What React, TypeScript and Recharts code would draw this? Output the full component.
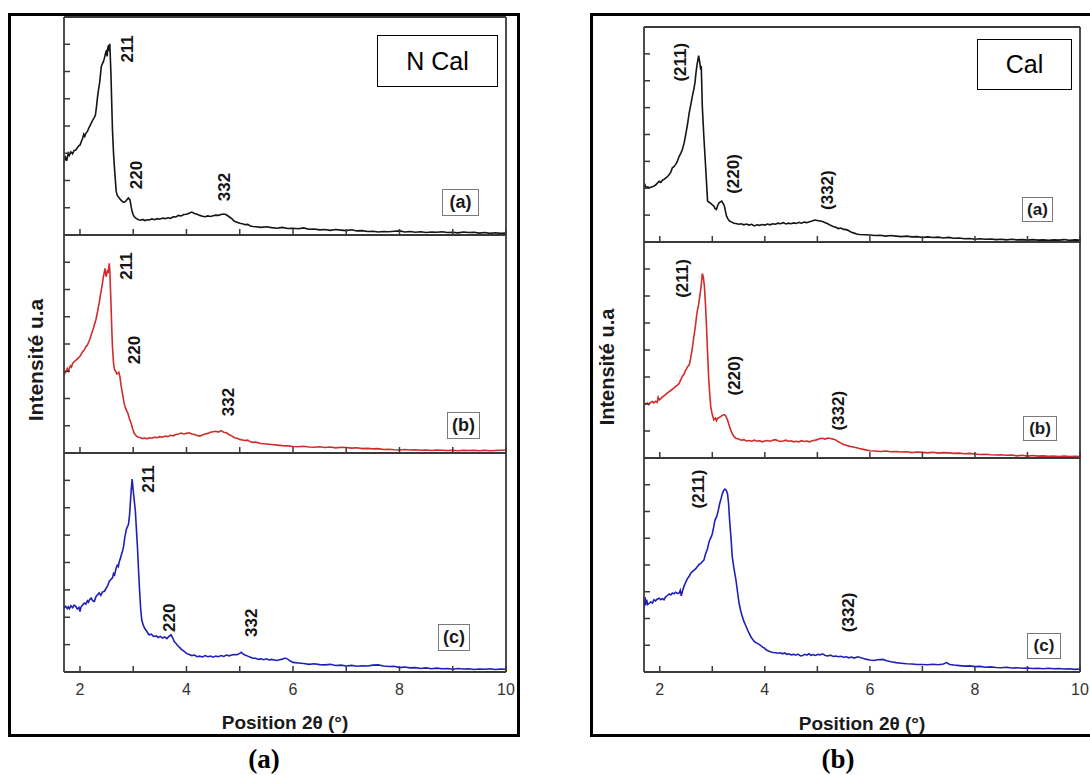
import { LineChart, Line, XAxis, YAxis, ReferenceDot } from "recharts";

// ── Style ─────────────────────────────────────────────────────────────────────

const FRAME = "#3a3a3a";
const SANS = '"Liberation Sans", Arial, sans-serif';
const SERIF = '"Liberation Serif", "Times New Roman", serif';
const PAD = 4; // breathing room around each plot inside its svg
const PADX = 14; // wider at the sides so the "10" tick label is not clipped
const AX = 1; // axes need a non-zero size or recharts skips them

const THETA_DOMAIN: [number, number] = [1.7, 10];
const THETA_TICKS = [2, 3, 4, 5, 6, 7, 8, 9, 10];
const INTENSITY_DOMAIN: [number, number] = [0, 8];
const INTENSITY_TICKS = [1, 2, 3, 4, 5, 6, 7];

// ── Diffractograms: [2θ (°), intensity (a.u.)] ───────────────────────────────

type Pair = [number, number];

// non calcined
const nCalA: Pair[] = [
  [1.7, 2.69], [1.73, 2.85], [1.75, 2.72], [1.78, 3.0], [1.8, 2.92], [1.83, 3.05], [1.86, 2.98],
  [1.89, 3.1], [1.92, 3.12], [1.95, 3.2], [1.98, 3.28], [2.0, 3.3], [2.03, 3.45], [2.05, 3.55],
  [2.07, 3.7], [2.09, 3.62], [2.11, 3.73], [2.14, 3.8], [2.16, 3.9], [2.18, 3.98], [2.21, 4.1],
  [2.24, 4.22], [2.27, 4.32], [2.29, 4.4], [2.31, 4.7], [2.33, 5.08], [2.35, 5.35], [2.37, 5.6],
  [2.4, 6.18], [2.42, 6.28], [2.44, 6.36], [2.46, 6.5], [2.48, 6.67], [2.5, 6.79], [2.51, 6.55],
  [2.52, 6.85], [2.54, 6.97], [2.55, 6.75], [2.56, 7.02], [2.58, 6.0], [2.61, 3.85], [2.63, 3.0],
  [2.65, 2.39], [2.68, 1.6], [2.7, 1.45], [2.72, 1.4], [2.74, 1.35], [2.77, 1.28], [2.8, 1.22],
  [2.83, 1.2], [2.86, 1.24], [2.89, 1.32], [2.91, 1.36], [2.94, 1.28], [2.96, 1.05], [2.98, 0.86],
  [3.0, 0.74], [3.02, 0.67], [3.06, 0.6], [3.1, 0.56], [3.14, 0.54], [3.18, 0.57], [3.22, 0.53],
  [3.26, 0.56], [3.3, 0.55], [3.35, 0.59], [3.4, 0.56], [3.45, 0.6], [3.5, 0.58], [3.55, 0.62],
  [3.6, 0.6], [3.65, 0.63], [3.7, 0.61], [3.75, 0.67], [3.8, 0.66], [3.85, 0.72], [3.9, 0.7],
  [3.95, 0.75], [4.0, 0.76], [4.05, 0.8], [4.1, 0.84], [4.15, 0.79], [4.2, 0.76], [4.25, 0.72],
  [4.3, 0.69], [4.35, 0.67], [4.4, 0.7], [4.45, 0.68], [4.5, 0.71], [4.55, 0.73], [4.6, 0.72],
  [4.65, 0.75], [4.7, 0.77], [4.75, 0.74], [4.8, 0.67], [4.85, 0.6], [4.9, 0.5], [4.95, 0.47],
  [5.0, 0.43], [5.05, 0.41], [5.1, 0.38], [5.15, 0.39], [5.2, 0.33], [5.25, 0.31], [5.3, 0.3],
  [5.4, 0.28], [5.5, 0.3], [5.6, 0.27], [5.7, 0.25], [5.8, 0.28], [5.9, 0.24], [6.0, 0.25],
  [6.1, 0.23], [6.2, 0.26], [6.3, 0.21], [6.4, 0.22], [6.5, 0.19], [6.6, 0.2], [6.7, 0.17],
  [6.8, 0.2], [6.9, 0.18], [7.0, 0.16], [7.1, 0.19], [7.2, 0.15], [7.3, 0.16], [7.4, 0.13],
  [7.5, 0.14], [7.6, 0.11], [7.7, 0.13], [7.8, 0.12], [7.9, 0.14], [8.0, 0.15], [8.1, 0.11],
  [8.2, 0.13], [8.3, 0.1], [8.4, 0.12], [8.5, 0.09], [8.6, 0.11], [8.7, 0.1], [8.8, 0.12],
  [8.9, 0.09], [9.0, 0.1], [9.1, 0.08], [9.2, 0.11], [9.3, 0.09], [9.4, 0.1], [9.5, 0.07],
  [9.6, 0.09], [9.7, 0.06], [9.8, 0.08], [9.9, 0.06], [10.0, 0.07],
];

const nCalB: Pair[] = [
  [1.7, 2.86], [1.72, 2.95], [1.74, 2.98], [1.76, 3.1], [1.78, 3.0], [1.8, 3.11], [1.82, 3.2],
  [1.84, 3.15], [1.86, 3.28], [1.89, 3.35], [1.92, 3.4], [1.96, 3.47], [2.0, 3.55], [2.03, 3.65],
  [2.05, 3.72], [2.08, 3.78], [2.11, 3.9], [2.14, 3.96], [2.17, 4.1], [2.19, 4.2], [2.21, 4.33],
  [2.24, 4.5], [2.27, 4.7], [2.3, 4.9], [2.33, 5.19], [2.36, 5.5], [2.38, 5.75], [2.4, 5.98],
  [2.42, 6.2], [2.44, 6.47], [2.46, 6.65], [2.47, 6.78], [2.49, 6.47], [2.5, 6.55], [2.52, 6.72],
  [2.53, 6.6], [2.55, 6.96], [2.56, 6.7], [2.58, 5.61], [2.6, 4.4], [2.61, 3.9], [2.63, 3.3],
  [2.65, 3.05], [2.67, 3.0], [2.69, 2.9], [2.71, 2.92], [2.73, 2.96], [2.75, 2.8], [2.77, 2.5],
  [2.8, 2.15], [2.83, 1.82], [2.86, 1.62], [2.9, 1.46], [2.93, 1.25], [2.96, 1.09], [2.99, 0.88],
  [3.02, 0.72], [3.06, 0.62], [3.1, 0.58], [3.14, 0.56], [3.18, 0.53], [3.22, 0.55], [3.26, 0.52],
  [3.3, 0.56], [3.35, 0.54], [3.4, 0.58], [3.45, 0.56], [3.5, 0.6], [3.55, 0.58], [3.6, 0.62],
  [3.65, 0.6], [3.7, 0.65], [3.75, 0.63], [3.8, 0.68], [3.85, 0.7], [3.9, 0.73], [3.95, 0.7],
  [4.0, 0.72], [4.05, 0.74], [4.1, 0.7], [4.15, 0.68], [4.2, 0.64], [4.25, 0.62], [4.3, 0.66],
  [4.35, 0.7], [4.4, 0.72], [4.45, 0.76], [4.5, 0.78], [4.55, 0.8], [4.6, 0.77], [4.65, 0.82],
  [4.7, 0.76], [4.75, 0.74], [4.8, 0.67], [4.85, 0.63], [4.9, 0.56], [4.95, 0.54], [5.0, 0.5],
  [5.05, 0.48], [5.1, 0.46], [5.15, 0.47], [5.2, 0.41], [5.25, 0.39], [5.3, 0.4], [5.4, 0.35],
  [5.5, 0.33], [5.6, 0.31], [5.7, 0.29], [5.8, 0.27], [5.9, 0.26], [6.0, 0.24], [6.1, 0.23],
  [6.2, 0.25], [6.3, 0.22], [6.4, 0.21], [6.5, 0.23], [6.6, 0.2], [6.7, 0.22], [6.8, 0.19],
  [6.9, 0.21], [7.0, 0.2], [7.1, 0.18], [7.2, 0.19], [7.3, 0.16], [7.4, 0.17], [7.5, 0.15],
  [7.6, 0.16], [7.7, 0.13], [7.8, 0.14], [7.9, 0.12], [8.0, 0.11], [8.1, 0.13], [8.2, 0.11],
  [8.3, 0.12], [8.4, 0.1], [8.5, 0.11], [8.6, 0.09], [8.7, 0.11], [8.8, 0.1], [8.9, 0.09],
  [9.0, 0.1], [9.1, 0.08], [9.2, 0.1], [9.3, 0.09], [9.4, 0.1], [9.5, 0.08], [9.6, 0.1],
  [9.7, 0.08], [9.8, 0.09], [9.9, 0.1], [10.0, 0.11],
];

const nCalC: Pair[] = [
  [1.7, 2.34], [1.73, 2.4], [1.76, 2.32], [1.78, 2.38], [1.8, 2.31], [1.83, 2.42], [1.86, 2.35],
  [1.89, 2.44], [1.92, 2.4], [1.95, 2.3], [1.98, 2.36], [2.0, 2.21], [2.02, 2.38], [2.05, 2.45],
  [2.08, 2.52], [2.11, 2.48], [2.14, 2.6], [2.16, 2.55], [2.18, 2.64], [2.21, 2.7], [2.24, 2.6],
  [2.27, 2.58], [2.3, 2.75], [2.33, 2.82], [2.36, 2.89], [2.39, 2.8], [2.42, 2.92], [2.46, 2.95],
  [2.49, 3.05], [2.52, 3.15], [2.55, 3.31], [2.58, 3.38], [2.61, 3.44], [2.63, 3.6], [2.65, 3.55],
  [2.68, 3.8], [2.7, 3.9], [2.72, 3.85], [2.74, 4.05], [2.76, 4.15], [2.78, 4.3], [2.8, 4.42],
  [2.82, 4.6], [2.84, 4.9], [2.87, 5.21], [2.89, 5.3], [2.91, 5.39], [2.93, 5.7], [2.94, 6.0],
  [2.96, 6.6], [2.98, 7.05], [3.0, 6.62], [3.02, 6.25], [3.04, 5.88], [3.06, 5.2], [3.08, 4.54],
  [3.1, 3.7], [3.12, 2.95], [3.14, 2.3], [3.16, 1.9], [3.19, 1.7], [3.22, 1.58], [3.25, 1.5],
  [3.28, 1.4], [3.3, 1.36], [3.34, 1.38], [3.38, 1.3], [3.43, 1.32], [3.47, 1.26], [3.51, 1.3],
  [3.55, 1.24], [3.59, 1.28], [3.63, 1.22], [3.67, 1.3], [3.71, 1.36], [3.74, 1.25], [3.77, 1.11],
  [3.8, 1.05], [3.84, 0.95], [3.87, 0.9], [3.91, 0.82], [3.95, 0.76], [4.0, 0.68], [4.05, 0.64],
  [4.1, 0.6], [4.15, 0.62], [4.2, 0.56], [4.25, 0.58], [4.3, 0.55], [4.35, 0.6], [4.4, 0.56],
  [4.45, 0.58], [4.5, 0.54], [4.55, 0.58], [4.6, 0.56], [4.65, 0.6], [4.7, 0.57], [4.75, 0.62],
  [4.8, 0.59], [4.85, 0.62], [4.9, 0.64], [4.95, 0.63], [5.0, 0.68], [5.03, 0.72], [5.06, 0.66],
  [5.1, 0.62], [5.15, 0.58], [5.2, 0.54], [5.25, 0.5], [5.3, 0.5], [5.35, 0.46], [5.4, 0.48],
  [5.45, 0.45], [5.5, 0.48], [5.55, 0.44], [5.6, 0.46], [5.65, 0.44], [5.7, 0.42], [5.75, 0.45],
  [5.8, 0.47], [5.85, 0.51], [5.9, 0.47], [5.95, 0.4], [6.0, 0.35], [6.1, 0.33], [6.2, 0.31],
  [6.3, 0.28], [6.4, 0.3], [6.5, 0.27], [6.6, 0.26], [6.7, 0.28], [6.8, 0.24], [6.9, 0.25],
  [7.0, 0.22], [7.1, 0.24], [7.2, 0.21], [7.3, 0.23], [7.4, 0.22], [7.5, 0.25], [7.6, 0.26],
  [7.7, 0.22], [7.8, 0.2], [7.9, 0.21], [8.0, 0.16], [8.1, 0.18], [8.2, 0.15], [8.3, 0.16],
  [8.4, 0.13], [8.5, 0.15], [8.6, 0.12], [8.7, 0.14], [8.8, 0.12], [8.9, 0.13], [9.0, 0.1],
  [9.1, 0.13], [9.2, 0.11], [9.3, 0.12], [9.4, 0.09], [9.5, 0.11], [9.6, 0.1], [9.7, 0.12],
  [9.8, 0.09], [9.9, 0.11], [10.0, 0.1],
];

// calcined
const calA: Pair[] = [
  [1.7, 2.06], [1.72, 2.12], [1.74, 2.02], [1.77, 2.05], [1.8, 2.02], [1.83, 2.04], [1.86, 2.06],
  [1.89, 2.08], [1.92, 2.12], [1.95, 2.18], [1.99, 2.26], [2.02, 2.22], [2.05, 2.3], [2.08, 2.33],
  [2.11, 2.38], [2.14, 2.42], [2.18, 2.51], [2.21, 2.6], [2.24, 2.76], [2.27, 2.8], [2.3, 2.88],
  [2.33, 2.98], [2.37, 3.19], [2.4, 3.3], [2.43, 3.44], [2.46, 3.65], [2.48, 3.85], [2.5, 4.06],
  [2.53, 4.4], [2.56, 4.8], [2.59, 5.1], [2.62, 5.42], [2.65, 5.7], [2.67, 5.92], [2.69, 6.3],
  [2.71, 6.6], [2.74, 6.93], [2.76, 6.7], [2.78, 6.41], [2.79, 6.55], [2.81, 5.05], [2.84, 3.9],
  [2.88, 2.57], [2.91, 1.52], [2.94, 1.48], [2.97, 1.44], [3.0, 1.38], [3.03, 1.34], [3.05, 1.25],
  [3.08, 1.21], [3.1, 1.35], [3.13, 1.46], [3.16, 1.5], [3.18, 1.52], [3.21, 1.42], [3.23, 1.34],
  [3.25, 1.15], [3.27, 0.97], [3.3, 0.85], [3.33, 0.78], [3.37, 0.74], [3.41, 0.7], [3.45, 0.69],
  [3.5, 0.66], [3.55, 0.68], [3.6, 0.64], [3.65, 0.67], [3.7, 0.63], [3.75, 0.66], [3.8, 0.6],
  [3.85, 0.64], [3.9, 0.62], [3.95, 0.65], [4.0, 0.63], [4.05, 0.67], [4.1, 0.64], [4.15, 0.68],
  [4.2, 0.66], [4.25, 0.7], [4.3, 0.68], [4.35, 0.72], [4.4, 0.67], [4.45, 0.7], [4.5, 0.68],
  [4.55, 0.71], [4.6, 0.69], [4.65, 0.73], [4.7, 0.7], [4.75, 0.74], [4.8, 0.72], [4.85, 0.75],
  [4.9, 0.78], [4.95, 0.82], [5.0, 0.8], [5.05, 0.78], [5.1, 0.76], [5.15, 0.72], [5.2, 0.68],
  [5.25, 0.62], [5.3, 0.58], [5.35, 0.55], [5.4, 0.5], [5.45, 0.52], [5.5, 0.47], [5.55, 0.46],
  [5.6, 0.42], [5.65, 0.36], [5.7, 0.33], [5.75, 0.3], [5.8, 0.28], [5.9, 0.27], [6.0, 0.26],
  [6.1, 0.24], [6.2, 0.25], [6.3, 0.22], [6.4, 0.24], [6.5, 0.22], [6.6, 0.2], [6.7, 0.22],
  [6.8, 0.19], [6.9, 0.2], [7.0, 0.17], [7.1, 0.19], [7.2, 0.17], [7.3, 0.18], [7.4, 0.15],
  [7.5, 0.17], [7.6, 0.14], [7.7, 0.15], [7.8, 0.12], [7.9, 0.13], [8.0, 0.1], [8.1, 0.12],
  [8.2, 0.1], [8.3, 0.11], [8.4, 0.09], [8.5, 0.1], [8.6, 0.08], [8.7, 0.1], [8.8, 0.08],
  [8.9, 0.09], [9.0, 0.07], [9.1, 0.09], [9.2, 0.07], [9.3, 0.08], [9.4, 0.06], [9.5, 0.08],
  [9.6, 0.07], [9.7, 0.09], [9.8, 0.06], [9.9, 0.08], [10.0, 0.07],
];

const calB: Pair[] = [
  [1.7, 2.03], [1.73, 2.0], [1.76, 2.04], [1.79, 1.98], [1.82, 2.05], [1.86, 2.09], [1.89, 2.04],
  [1.92, 2.1], [1.95, 2.06], [1.97, 2.25], [1.99, 2.15], [2.02, 2.2], [2.05, 2.26], [2.08, 2.3],
  [2.11, 2.35], [2.14, 2.4], [2.18, 2.46], [2.21, 2.5], [2.24, 2.55], [2.27, 2.59], [2.3, 2.65],
  [2.34, 2.7], [2.37, 2.77], [2.4, 2.9], [2.43, 3.02], [2.46, 3.1], [2.48, 3.2], [2.5, 3.27],
  [2.53, 3.38], [2.56, 3.45], [2.58, 3.6], [2.61, 3.95], [2.63, 4.2], [2.65, 4.5], [2.68, 4.9],
  [2.7, 5.25], [2.72, 5.5], [2.74, 5.68], [2.77, 6.11], [2.79, 6.4], [2.81, 6.83], [2.83, 6.7],
  [2.85, 6.36], [2.87, 5.7], [2.89, 4.88], [2.91, 3.9], [2.93, 3.02], [2.95, 2.4], [2.97, 1.91],
  [3.0, 1.6], [3.03, 1.41], [3.06, 1.48], [3.08, 1.38], [3.1, 1.47], [3.13, 1.5], [3.16, 1.53],
  [3.19, 1.58], [3.21, 1.6], [3.23, 1.6], [3.26, 1.55], [3.29, 1.41], [3.32, 1.22], [3.35, 1.04],
  [3.38, 0.9], [3.41, 0.8], [3.45, 0.73], [3.5, 0.7], [3.55, 0.66], [3.6, 0.68], [3.65, 0.63],
  [3.7, 0.65], [3.75, 0.62], [3.8, 0.66], [3.85, 0.63], [3.9, 0.64], [3.95, 0.6], [4.0, 0.63],
  [4.05, 0.65], [4.1, 0.62], [4.15, 0.66], [4.2, 0.68], [4.25, 0.64], [4.3, 0.61], [4.35, 0.63],
  [4.4, 0.66], [4.45, 0.62], [4.5, 0.64], [4.55, 0.6], [4.6, 0.62], [4.65, 0.6], [4.7, 0.64],
  [4.75, 0.61], [4.8, 0.63], [4.85, 0.6], [4.9, 0.64], [4.95, 0.66], [5.0, 0.68], [5.05, 0.72],
  [5.1, 0.73], [5.15, 0.7], [5.2, 0.74], [5.25, 0.72], [5.3, 0.7], [5.35, 0.67], [5.4, 0.6],
  [5.45, 0.55], [5.5, 0.5], [5.55, 0.47], [5.6, 0.44], [5.65, 0.42], [5.7, 0.4], [5.75, 0.38],
  [5.8, 0.35], [5.9, 0.31], [6.0, 0.27], [6.1, 0.26], [6.2, 0.24], [6.3, 0.26], [6.4, 0.23],
  [6.5, 0.24], [6.6, 0.22], [6.7, 0.23], [6.8, 0.2], [6.9, 0.22], [7.0, 0.21], [7.1, 0.19],
  [7.2, 0.21], [7.3, 0.18], [7.4, 0.2], [7.5, 0.19], [7.6, 0.17], [7.7, 0.18], [7.8, 0.16],
  [7.9, 0.17], [8.0, 0.15], [8.1, 0.13], [8.2, 0.14], [8.3, 0.12], [8.4, 0.11], [8.5, 0.12],
  [8.6, 0.1], [8.7, 0.11], [8.8, 0.08], [8.9, 0.1], [9.0, 0.07], [9.1, 0.09], [9.2, 0.07],
  [9.3, 0.08], [9.4, 0.06], [9.5, 0.07], [9.6, 0.05], [9.7, 0.07], [9.8, 0.05], [9.9, 0.06],
  [10.0, 0.05],
];

const calC: Pair[] = [
  [1.7, 2.64], [1.71, 2.45], [1.72, 2.8], [1.73, 2.5], [1.75, 2.7], [1.77, 2.52], [1.8, 2.57],
  [1.83, 2.62], [1.86, 2.58], [1.89, 2.7], [1.92, 2.66], [1.95, 2.72], [1.99, 2.76], [2.02, 2.7],
  [2.05, 2.74], [2.08, 2.7], [2.11, 2.8], [2.14, 2.85], [2.18, 2.92], [2.21, 2.88], [2.24, 2.95],
  [2.27, 2.92], [2.3, 2.98], [2.34, 2.94], [2.37, 2.95], [2.39, 3.05], [2.41, 2.85], [2.43, 3.01],
  [2.46, 3.2], [2.5, 3.38], [2.53, 3.5], [2.56, 3.58], [2.59, 3.69], [2.62, 3.75], [2.66, 3.82],
  [2.69, 3.87], [2.72, 3.95], [2.75, 4.02], [2.78, 4.06], [2.81, 4.12], [2.84, 4.18], [2.87, 4.4],
  [2.91, 4.62], [2.93, 4.8], [2.95, 4.93], [2.98, 5.05], [3.0, 5.17], [3.03, 5.45], [3.05, 5.67],
  [3.08, 5.8], [3.1, 5.92], [3.12, 6.1], [3.14, 6.29], [3.17, 6.5], [3.19, 6.66], [3.22, 6.8],
  [3.24, 6.84], [3.27, 6.78], [3.29, 6.66], [3.31, 6.3], [3.33, 5.67], [3.36, 4.9], [3.38, 4.31],
  [3.41, 3.9], [3.45, 3.44], [3.48, 3.0], [3.51, 2.57], [3.54, 2.3], [3.57, 2.08], [3.6, 1.9],
  [3.64, 1.72], [3.67, 1.58], [3.7, 1.45], [3.74, 1.3], [3.77, 1.21], [3.81, 1.12], [3.85, 1.08],
  [3.89, 1.03], [3.93, 0.98], [3.96, 0.92], [3.99, 0.9], [4.02, 0.84], [4.05, 0.8], [4.08, 0.78],
  [4.12, 0.75], [4.16, 0.73], [4.21, 0.72], [4.25, 0.7], [4.3, 0.72], [4.34, 0.68], [4.38, 0.71],
  [4.42, 0.66], [4.46, 0.68], [4.5, 0.64], [4.55, 0.66], [4.59, 0.63], [4.63, 0.67], [4.68, 0.6],
  [4.72, 0.62], [4.76, 0.66], [4.8, 0.63], [4.84, 0.68], [4.88, 0.62], [4.92, 0.65], [4.97, 0.62],
  [5.01, 0.66], [5.05, 0.64], [5.1, 0.68], [5.15, 0.62], [5.2, 0.6], [5.25, 0.63], [5.3, 0.58],
  [5.35, 0.6], [5.4, 0.57], [5.45, 0.59], [5.5, 0.55], [5.55, 0.57], [5.6, 0.53], [5.65, 0.56],
  [5.7, 0.52], [5.77, 0.57], [5.85, 0.52], [5.92, 0.48], [6.0, 0.45], [6.08, 0.43], [6.15, 0.46],
  [6.25, 0.47], [6.32, 0.42], [6.4, 0.38], [6.5, 0.35], [6.6, 0.33], [6.7, 0.31], [6.8, 0.3],
  [6.9, 0.28], [7.0, 0.28], [7.1, 0.27], [7.2, 0.29], [7.3, 0.27], [7.4, 0.3], [7.46, 0.35],
  [7.52, 0.28], [7.6, 0.26], [7.7, 0.24], [7.8, 0.22], [7.9, 0.23], [8.0, 0.2], [8.1, 0.21],
  [8.2, 0.18], [8.3, 0.19], [8.4, 0.17], [8.5, 0.16], [8.6, 0.18], [8.7, 0.15], [8.8, 0.16],
  [8.9, 0.14], [9.0, 0.15], [9.1, 0.13], [9.2, 0.14], [9.3, 0.12], [9.4, 0.14], [9.5, 0.12],
  [9.6, 0.13], [9.7, 0.11], [9.8, 0.12], [9.9, 0.1], [10.0, 0.11],
];

// ── Reflection labels: [hkl, 2θ, intensity where the label is centred] ──────

type Peak = [string, number, number];

const nCalAPeaks: Peak[] = [["211", 2.9, 6.83], ["220", 3.07, 2.2], ["332", 4.71, 1.76]];
const nCalBPeaks: Peak[] = [["211", 2.88, 6.86], ["220", 3.03, 3.78], ["332", 4.78, 1.87]];
const nCalCPeaks: Peak[] = [["211", 3.28, 7.05], ["220", 3.69, 1.98], ["332", 5.22, 1.8]];
const calAPeaks: Peak[] = [["(211)", 2.39, 6.69], ["(220)", 3.4, 2.53], ["(332)", 5.19, 1.93]];
const calBPeaks: Peak[] = [["(211)", 2.44, 6.65], ["(220)", 3.43, 3.05], ["(332)", 5.4, 1.75]];
const calCPeaks: Peak[] = [["(211)", 2.73, 6.84], ["(332)", 5.59, 2.23]];

const COLORS = { a: "#151515", b: "#d22b2b", c: "#2020b8" };

// ── Panel ─────────────────────────────────────────────────────────────────────

interface Box {
  x: number;
  y: number;
  w: number;
  h: number;
}

interface PanelProps {
  box: Box;
  series: Pair[];
  color: string;
  peaks: Peak[];
  bottom?: boolean;
}

function peakShape(text: string) {
  return (p: any) => (
    <text
      x={p.cx}
      y={p.cy}
      transform={`rotate(-90 ${p.cx} ${p.cy})`}
      textAnchor="middle"
      dominantBaseline="central"
      fontFamily={SANS}
      fontWeight="bold"
      fontSize={17}
      fill="#141414"
    >
      {text}
    </text>
  );
}

function Panel({ box, series, color, peaks, bottom }: PanelProps) {
  const data = series.map(([t, i]) => ({ t, i }));
  const axisH = bottom ? 40 : AX;

  const xTick = (p: any) => {
    const v = p.payload.value;
    return (
      <g>
        <line x1={p.x} x2={p.x} y1={p.y} y2={p.y - 6} stroke={FRAME} strokeWidth={1.5} />
        {bottom && v % 2 === 0 && (
          <text x={p.x} y={p.y + 23} textAnchor="middle" fontFamily={SANS} fontSize={16} fill="#333">
            {v}
          </text>
        )}
      </g>
    );
  };
  const leftTick = (p: any) => (
    <line x1={p.x} x2={p.x + 6} y1={p.y} y2={p.y} stroke={FRAME} strokeWidth={1.5} />
  );
  const rightTick = (p: any) => (
    <line x1={p.x} x2={p.x - 6} y1={p.y} y2={p.y} stroke={FRAME} strokeWidth={1.5} />
  );
  const axisLine = { stroke: FRAME, strokeWidth: 1.8 };

  return (
    <div style={{ position: "absolute", left: box.x - PADX - AX, top: box.y - PAD - AX }}>
      <LineChart
        width={box.w + 2 * PADX + 2 * AX}
        height={box.h + 2 * PAD + AX + axisH}
        data={data}
        margin={{ top: PAD, right: PADX, bottom: PAD, left: PADX }}
      >
        <XAxis
          dataKey="t"
          type="number"
          domain={THETA_DOMAIN}
          ticks={THETA_TICKS}
          interval={0}
          height={axisH}
          tickSize={0}
          tickMargin={0}
          tickLine={false}
          tick={xTick}
          axisLine={axisLine}
        />
        <XAxis
          xAxisId="top"
          orientation="top"
          type="number"
          domain={THETA_DOMAIN}
          height={AX}
          tick={false}
          tickLine={false}
          axisLine={axisLine}
        />
        <YAxis
          yAxisId="l"
          type="number"
          domain={INTENSITY_DOMAIN}
          ticks={INTENSITY_TICKS}
          interval={0}
          width={AX}
          tickSize={0}
          tickMargin={0}
          tickLine={false}
          tick={leftTick}
          axisLine={axisLine}
        />
        <YAxis
          yAxisId="r"
          orientation="right"
          type="number"
          domain={INTENSITY_DOMAIN}
          ticks={INTENSITY_TICKS}
          interval={0}
          width={AX}
          tickSize={0}
          tickMargin={0}
          tickLine={false}
          tick={rightTick}
          axisLine={axisLine}
        />
        <Line
          yAxisId="l"
          type="linear"
          dataKey="i"
          stroke={color}
          strokeWidth={1.6}
          dot={false}
          isAnimationActive={false}
        />
        {peaks.map(([hkl, t, lvl]) => (
          <ReferenceDot key={hkl} yAxisId="l" x={t} y={lvl} r={0} shape={peakShape(hkl)} />
        ))}
      </LineChart>
    </div>
  );
}

// ── Small boxed sample tags and legends ──────────────────────────────────────

function Tag({ box, text, size }: { box: Box; text: string; size: number }) {
  return (
    <div
      style={{
        position: "absolute",
        left: box.x,
        top: box.y,
        width: box.w,
        height: box.h,
        boxSizing: "border-box",
        border: "1px solid #7a7a7a",
        background: "#fff",
        display: "flex",
        alignItems: "center",
        justifyContent: "center",
        fontFamily: SANS,
        fontWeight: "bold",
        fontSize: size,
        color: "#1a1a1a",
      }}
    >
      {text}
    </div>
  );
}

function Legend({ box, text }: { box: Box; text: string }) {
  return (
    <div
      style={{
        position: "absolute",
        left: box.x,
        top: box.y,
        width: box.w,
        height: box.h,
        boxSizing: "border-box",
        border: "1.2px solid #000",
        background: "#fff",
        display: "flex",
        alignItems: "center",
        justifyContent: "center",
        fontFamily: SANS,
        fontSize: 25,
        color: "#000",
      }}
    >
      {text}
    </div>
  );
}

// ── Figure ────────────────────────────────────────────────────────────────────

export default function App() {
  const frameStyle = (left: number, width: number) => ({
    position: "absolute" as const,
    left,
    top: 13,
    width,
    height: 724,
    boxSizing: "border-box" as const,
    border: "3.5px solid #000",
  });

  return (
    <div
      style={{
        position: "absolute",
        left: 0,
        top: 0,
        width: 1090,
        height: 775,
        background: "#fff",
        overflow: "hidden",
      }}
    >
      <div style={frameStyle(8, 512)} />
      <div style={frameStyle(590, 510)} />

      {/* non calcined */}
      <Panel box={{ x: 64, y: 17, w: 442, h: 218 }} series={nCalA} color={COLORS.a} peaks={nCalAPeaks} />
      <Panel box={{ x: 64, y: 235, w: 442, h: 218 }} series={nCalB} color={COLORS.b} peaks={nCalBPeaks} />
      <Panel box={{ x: 64, y: 453, w: 442, h: 219 }} series={nCalC} color={COLORS.c} peaks={nCalCPeaks} bottom />

      {/* calcined */}
      <Panel box={{ x: 644, y: 27, w: 436, h: 215 }} series={calA} color={COLORS.a} peaks={calAPeaks} />
      <Panel box={{ x: 644, y: 242, w: 436, h: 216 }} series={calB} color={COLORS.b} peaks={calBPeaks} />
      <Panel box={{ x: 644, y: 458, w: 436, h: 214 }} series={calC} color={COLORS.c} peaks={calCPeaks} bottom />

      <Legend box={{ x: 377, y: 35, w: 121, h: 52 }} text="N Cal" />
      <Legend box={{ x: 977, y: 39, w: 95, h: 51 }} text="Cal" />

      <Tag box={{ x: 442, y: 189, w: 37, h: 27 }} text="(a)" size={18} />
      <Tag box={{ x: 447, y: 412, w: 33, h: 27 }} text="(b)" size={18} />
      <Tag box={{ x: 438, y: 624, w: 32, h: 27 }} text="(c)" size={18} />
      <Tag box={{ x: 1022, y: 197, w: 31, h: 25 }} text="(a)" size={17} />
      <Tag box={{ x: 1023, y: 416, w: 34, h: 25 }} text="(b)" size={17} />
      <Tag box={{ x: 1027, y: 633, w: 34, h: 26 }} text="(c)" size={17} />

      <svg
        width={1090}
        height={775}
        style={{ position: "absolute", left: 0, top: 0, pointerEvents: "none" }}
      >
        <g fontFamily={SANS} fontWeight="bold" fill="#1a1a1a" textAnchor="middle" dominantBaseline="central">
          <text x={35} y={360} fontSize={21} transform="rotate(-90 35 360)">
            Intensité u.a
          </text>
          <text x={607} y={367} fontSize={20} transform="rotate(-90 607 367)">
            Intensité u.a
          </text>
          <text x={285} y={722} fontSize={19}>
            Position 2θ (°)
          </text>
          <text x={862} y={723} fontSize={19}>
            Position 2θ (°)
          </text>
        </g>
        <g fontFamily={SERIF} fontWeight="bold" fill="#000" textAnchor="middle" dominantBaseline="central">
          <text x={264} y={759} fontSize={27}>
            (a)
          </text>
          <text x={838} y={759} fontSize={27}>
            (b)
          </text>
        </g>
      </svg>
    </div>
  );
}
